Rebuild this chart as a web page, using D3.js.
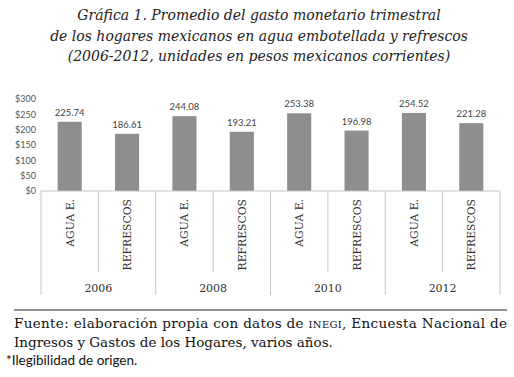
<!DOCTYPE html>
<html>
<head>
<meta charset="utf-8">
<script src="https://cdn.jsdelivr.net/npm/d3@7"></script>
<style>
  body { margin: 0; background: #fff; }
  svg { display: block; }
</style>
</head>
<body>
<div id="chart"></div>
<script>
// --------------------------------------
//  Data
// --------------------------------------

const years = ["2006", "2008", "2010", "2012"];
const products = ["AGUA E.", "REFRESCOS"];
const values = [225.74, 186.61, 244.08, 193.21, 253.38, 196.98, 254.52, 221.28];
const yTicks = [0, 50, 100, 150, 200, 250, 300];

const titleLines = [
  "Gráfica 1. Promedio del gasto monetario trimestral",
  "de los hogares mexicanos en agua embotellada y refrescos",
  "(2006-2012, unidades en pesos mexicanos corrientes)"
];

const width = 514, height = 377;
const margin = { left: 41, right: 14, top: 99, bottom: 186 };
const innerwidth = width - margin.left - margin.right;
const innerheight = height - margin.top - margin.bottom;

const rows = [];
years.forEach((yr, i) => products.forEach((p, j) => {
  rows.push({ key: yr + "-" + p, year: yr, product: p, value: values[i * 2 + j] });
}));

// --------------------------------------
//  Canvas
// --------------------------------------

const svg = d3.select("#chart")
  .append("svg")
    .attr("width", width)
    .attr("height", height);

svg.append("g")
  .selectAll("text")
  .data(titleLines)
  .join("text")
    .attr("x", width / 2 + 2)
    .attr("y", (d, i) => 20 + i * 20.5)
    .attr("text-anchor", "middle")
    .style("font-family", "'DejaVu Serif', serif")
    .style("font-style", "italic")
    .style("font-size", "14px")
    .style("fill", "#222")
    .text(d => d);

const inner = svg.append("g")
  .attr("transform", `translate(${margin.left}, ${margin.top})`);

// --------------------------------------
//  Scales
// --------------------------------------

const x = d3.scaleBand()
  .domain(rows.map(d => d.key))
  .range([0, innerwidth])
  .paddingInner(0.58)
  .paddingOuter(0.29);

const xGroup = d3.scaleBand()
  .domain(years)
  .range([0, innerwidth]);

const y = d3.scaleLinear()
  .domain([0, 300])
  .range([innerheight, 0]);

// --------------------------------------
//  Y axis
// --------------------------------------

inner.append("g")
  .call(d3.axisLeft(y).tickValues(yTicks).tickSize(0).tickPadding(5)
    .tickFormat(d => "$" + d))
  .call(g => g.select(".domain").remove())
  .call(g => g.selectAll("text")
    .style("font-family", "Lato, sans-serif")
    .style("font-size", "9px")
    .style("fill", "#555"));

// --------------------------------------
//  Bars and labels
// --------------------------------------

inner.selectAll("rect.bar")
  .data(rows)
  .join("rect")
    .attr("class", "bar")
    .attr("x", d => x(d.key))
    .attr("y", d => y(d.value))
    .attr("width", x.bandwidth())
    .attr("height", d => innerheight - y(d.value))
    .style("fill", "#8e8e8e");

inner.selectAll("text.val")
  .data(rows)
  .join("text")
    .attr("class", "val")
    .attr("x", d => x(d.key) + x.bandwidth() / 2)
    .attr("y", d => y(d.value) - 6)
    .attr("text-anchor", "middle")
    .style("font-family", "Lato, sans-serif")
    .style("font-size", "9.5px")
    .style("fill", "#444")
    .text(d => d.value.toFixed(2));

// --------------------------------------
//  Category axis (two levels)
// --------------------------------------

const axisG = inner.append("g")
  .attr("transform", `translate(0, ${innerheight})`);

axisG.append("line")
  .attr("x1", 0).attr("x2", innerwidth)
  .attr("y1", 0).attr("y2", 0)
  .style("stroke", "#c4c4c4");

// separators between products inside a year
axisG.selectAll("line.inner")
  .data(years)
  .join("line")
    .attr("class", "inner")
    .attr("x1", d => xGroup(d) + xGroup.bandwidth() / 2)
    .attr("x2", d => xGroup(d) + xGroup.bandwidth() / 2)
    .attr("y1", 0).attr("y2", 81)
    .style("stroke", "#c8c8c8");

// separators between years
axisG.selectAll("line.outer")
  .data(years.concat(["end"]))
  .join("line")
    .attr("class", "outer")
    .attr("x1", (d, i) => i * xGroup.bandwidth())
    .attr("x2", (d, i) => i * xGroup.bandwidth())
    .attr("y1", 0).attr("y2", 104)
    .style("stroke", "#c8c8c8");

axisG.selectAll("text.cat")
  .data(rows)
  .join("text")
    .attr("class", "cat")
    .attr("transform", d => `translate(${x(d.key) + x.bandwidth() / 2 + 4}, 8) rotate(-90)`)
    .attr("text-anchor", "end")
    .style("font-family", "'DejaVu Serif', serif")
    .style("font-size", "10.8px")
    .style("fill", "#333")
    .text(d => d.product);

axisG.selectAll("text.year")
  .data(years)
  .join("text")
    .attr("class", "year")
    .attr("x", d => xGroup(d) + xGroup.bandwidth() / 2)
    .attr("y", 101)
    .attr("text-anchor", "middle")
    .style("font-family", "'DejaVu Serif', serif")
    .style("font-size", "11px")
    .style("fill", "#333")
    .text(d => d);

// --------------------------------------
//  Footer
// --------------------------------------

svg.append("line")
  .attr("x1", 14).attr("x2", 507)
  .attr("y1", 310).attr("y2", 310)
  .style("stroke", "#222")
  .style("stroke-width", 1.2);

const src1 = svg.append("text")
  .attr("x", 14).attr("y", 328)
  .attr("textLength", 493)
  .attr("lengthAdjust", "spacing")
  .style("font-family", "'DejaVu Serif', serif")
  .style("font-size", "13.5px")
  .style("fill", "#111");
src1.append("tspan").text("Fuente: elaboración propia con datos de ");
src1.append("tspan").style("font-size", "10px").text("INEGI");
src1.append("tspan").text(", Encuesta Nacional de");

svg.append("text")
  .attr("x", 14).attr("y", 347)
  .style("font-family", "'DejaVu Serif', serif")
  .style("font-size", "13.5px")
  .style("fill", "#111")
  .text("Ingresos y Gastos de los Hogares, varios años.");

svg.append("text")
  .attr("x", 6).attr("y", 365)
  .style("font-family", "Lato, sans-serif")
  .style("font-size", "13.5px")
  .style("fill", "#111")
  .text("*Ilegibilidad de origen.");
</script>
</body>
</html>
